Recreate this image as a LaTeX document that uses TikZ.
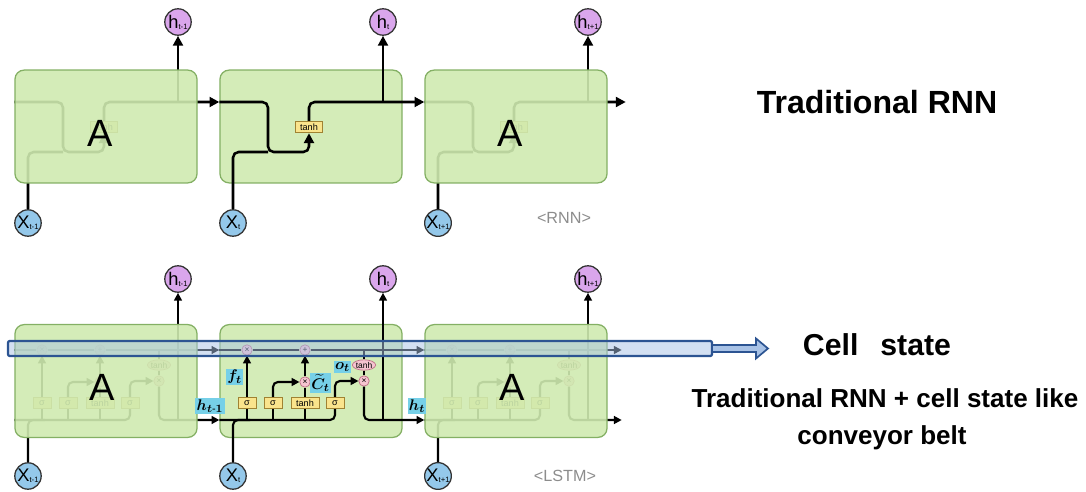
\documentclass[tikz,border=0pt]{standalone}
\usepackage{amsmath, amssymb}
\usepackage{fontspec}
\setmainfont{Liberation Sans}
\usepackage{xcolor}
\usepackage{tikz}
\usetikzlibrary{
  shapes.geometric,
  arrows.meta,
  positioning,
  calc
}
\pgfdeclarelayer{background}
\pgfdeclarelayer{front}
\pgfsetlayers{background,main,front}
\definecolor{cellgreen}{RGB}{212, 236, 184}
\definecolor{ghostgreen}{RGB}{207, 234, 176}
\definecolor{celledge}{RGB}{132, 176, 100}
\definecolor{hviolet}{RGB}{218, 166, 236}
\definecolor{xblue}{RGB}{148, 200, 234}
\definecolor{gateyellow}{RGB}{250, 228, 140}
\definecolor{gateedge}{RGB}{160, 130, 50}
\definecolor{oppink}{RGB}{246, 196, 208}
\definecolor{opedge}{RGB}{190, 110, 135}
\definecolor{lblcyan}{RGB}{118, 208, 232}
\definecolor{beltfill}{RGB}{168, 194, 230}
\definecolor{beltedge}{RGB}{44, 84, 146}
\definecolor{taggray}{RGB}{140, 140, 140}
\newcommand{\cellsub}[1]{\raisebox{-0.6pt}{\fontsize{5.5}{5.5}\selectfont #1}}
\tikzset{
  cell/.style = {
    rectangle, rounded corners=6.5pt,
    draw=celledge, line width=0.9pt,
    fill=cellgreen, minimum width=4.55cm, minimum height=2.82cm,
    inner sep=0pt
  },
  ghost/.style = {cell, fill=ghostgreen, fill opacity=0.9},
  bigA/.style = {font=\fontsize{27}{27}\selectfont, inner sep=0pt},
  hnode/.style = {
    circle, draw=black!80, line width=0.9pt,
    fill=hviolet, minimum size=0.66cm, inner sep=0pt,
    font=\fontsize{13}{13}\selectfont
  },
  xnode/.style = {hnode, fill=xblue},
  gate/.style = {
    rectangle, draw=gateedge, line width=0.6pt,
    fill=gateyellow, minimum width=#1, minimum height=0.29cm,
    inner sep=0pt, font=\fontsize{6.5}{6.5}\selectfont
  },
  gate/.default = 0.45cm,
  opnode/.style = {
    circle, draw=opedge, line width=0.5pt, fill=oppink,
    minimum size=0.26cm, inner sep=0pt, font=\fontsize{6}{6}\selectfont
  },
  tanhell/.style = {
    ellipse, draw=opedge, line width=0.5pt, fill=oppink,
    minimum width=0.58cm, minimum height=0.26cm, inner sep=0pt,
    font=\fontsize{6}{6}\selectfont
  },
  lbl/.style  = {fill=lblcyan, inner sep=0.9pt, font=\fontsize{11}{11}\selectfont\boldmath},
  wire/.style = {line width=1.8pt, rounded corners=4pt},
  arr/.style  = {wire, -{Triangle[length=7pt, width=7pt]}},
  swire/.style = {line width=1.5pt, rounded corners=3.5pt},
  sarr/.style = {swire, -{Triangle[length=5.5pt, width=5.5pt]}},
  cline/.style = {line width=1.2pt},
  carr/.style = {cline, -{Triangle[length=5.5pt, width=5.5pt]}},
  belt/.style = {
    rectangle, rounded corners=1.5pt, draw=beltedge, line width=1.6pt,
    fill=beltfill, fill opacity=0.5, minimum width=17.6cm,
    minimum height=0.38cm, inner sep=0pt
  },
  beltarrow/.style = {draw=beltedge, fill=beltfill, line width=1.2pt},
  endpt/.style = {inner sep=0pt, minimum size=0pt},
  tag/.style  = {text=taggray, font=\fontsize{11.5}{12}\selectfont},
  heading/.style = {font=\fontsize{#1}{#1}\selectfont\bfseries},
}

\begin{document}
\begin{tikzpicture}[x=0.025cm, y=-0.025cm]
  \useasboundingbox (0,0) rectangle (1086,492);

  % RNN row
  \foreach \i/\L/\s/\lay/\st in {1/15/t-1/front/ghost, 2/220/t/background/cell, 3/425/t+1/front/ghost}{
    \begin{scope}[shift={(\L,0)}]
      \begin{pgfonlayer}{\lay}
        \node[\st] (rc\i) at (91,126.5) {};
        \ifnum\i=2\else\node[bigA] (rA\i) at (85,133) {A};\fi
      \end{pgfonlayer}
      \node[hnode] (rh\i) at (163,22) {h\cellsub{\s}};
      \node[xnode] (rx\i) at (13,223) {X\cellsub{\s}};
      \node[gate=0.68cm] (rtanh\i) at (89,127) {tanh};
    \end{scope}
  }
  \node[endpt] (rout) at (626,102) {};

  \foreach \i/\L/\nx in {1/15/rc2, 2/220/rc3, 3/425/rout}{
    \begin{scope}[shift={(\L,0)}]
      \draw[arr] (rc\i.west |- 0,102) -- (48,102) -- (48,152) -- (89,152) -- (rtanh\i.south);
      \draw[wire] (rx\i.north) -- (13,152) -- (48,152);
      \draw[arr] (rtanh\i.north) -- (89,102) -- (\nx.west |- 0,102);
      \draw[arr] (rh\i.south |- 0,102) -- (rh\i.south);
    \end{scope}
  }

  % LSTM row
  \foreach \i/\L/\s/\lay/\st in {1/15/t-1/front/ghost, 2/220/t/background/cell, 3/425/t+1/front/ghost}{
    \begin{scope}[shift={(\L,0)}]
      \begin{pgfonlayer}{\lay}
        \node[\st] (lc\i) at (91,381) {};
        \ifnum\i=2\else\node[bigA] (lA\i) at (87,387) {A};\fi
      \end{pgfonlayer}
      \node[hnode] (lh\i) at (163,279) {h\cellsub{\s}};
      \node[xnode] (lx\i) at (13,476) {X\cellsub{\s}};
      \node[opnode] (lfx\i) at (27,350) {×};
      \node[opnode] (lpl\i) at (85,350) {+};
      \node[gate] (lsf\i) at (27,403) {σ};
      \node[gate] (lsi\i) at (53,403) {σ};
      \node[gate=0.7cm] (ltb\i) at (85,403) {tanh};
      \node[gate] (lso\i) at (115,403) {σ};
      \node[opnode] (lix\i) at (85,382) {×};
      \node[tanhell] (lte\i) at (144,365) {tanh};
      \node[opnode] (lox\i) at (144,381) {×};
    \end{scope}
  }
  \node[endpt] (lout) at (622,420) {};

  \foreach \i/\L/\nx in {1/15/lc2, 2/220/lc3, 3/425/lout}{
    \begin{scope}[shift={(\L,0)}]
      \draw[swire] (lc\i.west |- 0,420) -- (115,420) -- (lso\i.south);
      \draw[swire] (lsf\i.south) -- (lsf\i.south |- 0,420);
      \draw[swire] (lsi\i.south) -- (lsi\i.south |- 0,420);
      \draw[swire] (ltb\i.south) -- (ltb\i.south |- 0,420);
      \draw[swire] (lx\i.north) -- (13,420) -- (30,420);
      \draw[sarr] (lsf\i.north) -- (lfx\i.south);
      \draw[sarr] (lsi\i.north) -- (53,382) -- (lix\i.west);
      \draw[swire] (ltb\i.north) -- (lix\i.south);
      \draw[sarr] (lix\i.north) -- (lpl\i.south);
      \draw[sarr] (lso\i.north) -- (115,381) -- (lox\i.west);
      \draw[swire] (lte\i.north |- 0,350) -- (lte\i.north);
      \draw[swire] (lte\i.south) -- (lox\i.north);
      \draw[sarr] (lox\i.south) -- (144,420) -- (\nx.west |- 0,420);
      \draw[sarr] (lh\i.south |- 0,420) -- (lh\i.south);
      \draw[cline] (lc\i.west |- 0,350) -- (lfx\i.west);
      \draw[cline] (lfx\i.east) -- (lpl\i.west);
      \draw[carr] (lpl\i.east) -- (\nx.west |- 0,350);
    \end{scope}
  }

  \begin{pgfonlayer}{front}
    \node[belt] (belt) at (360,348.5) {};
    \coordinate (beltend) at (768,348.5);
    \draw[beltarrow] ($(belt.east)+(0,-3.5)$) -- ($(beltend)+(-12,-3.5)$)
      -- ($(beltend)+(-12,-10)$) -- (beltend) -- ($(beltend)+(-12,10)$)
      -- ($(beltend)+(-12,3.5)$) -- ($(belt.east)+(0,3.5)$);
    \node[lbl] (hprev) at (210,406) {$h_{t\text{-}1}$};
    \node[lbl] (ft) at (234.5,377) {$f_t$};
    \node[lbl] (ctil) at (320.5,383) {$\widetilde{C}_t$};
    \node[lbl] (ot) at (342.5,367) {$o_t$};
    \node[lbl] (hcur) at (417,406) {$h_t$};
  \end{pgfonlayer}

  \node[tag] (rnntag) at (564,218) {<RNN>};
  \node[tag] (lstmtag) at (565,476) {<LSTM>};

  \node[heading=22.8] (rnntitle) at (877,102) {Traditional RNN};
  \node[heading=21.5] (celltitle) at (877,345) {Cell\hspace{0.45em} state};
  \node[heading=18.5] (note1) at (885,398) {Traditional RNN + cell state like};
  \node[heading=18.5] (note2) at (882,438) {conveyor belt};

\end{tikzpicture}
\end{document}
